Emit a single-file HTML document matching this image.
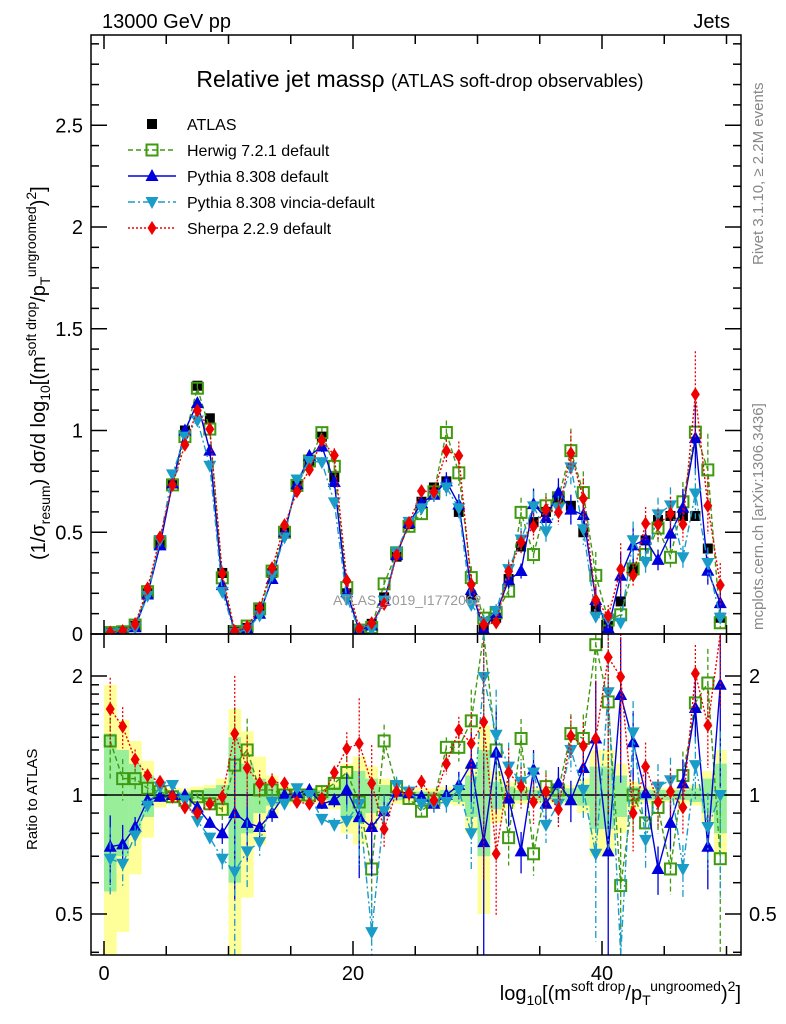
<!DOCTYPE html>
<html><head><meta charset="utf-8">
<style>
html,body{margin:0;padding:0;background:#fff;width:786px;height:1024px;overflow:hidden;}
svg{display:block;font-family:"Liberation Sans",sans-serif;}
</style></head>
<body>
<svg id="chart" width="786" height="1024" viewBox="0 0 786 1024">
<defs>
<clipPath id="clipMain"><rect x="91" y="35" width="650" height="599"/></clipPath>
<clipPath id="clipRatio"><rect x="91" y="634" width="650" height="321"/></clipPath>
</defs>
<g id="bands" clip-path="url(#clipRatio)"></g>
<g id="ratioMarks" clip-path="url(#clipRatio)"></g>
<g id="mainMarks" clip-path="url(#clipMain)"></g>
<g id="axes"></g>
<text x="102" y="28" font-size="20">13000 GeV pp</text>
<text x="730" y="28" font-size="20" text-anchor="end">Jets</text>
<text x="420" y="87" font-size="23" text-anchor="middle">Relative jet mass<tspan>ρ</tspan> <tspan font-size="18.5">(ATLAS soft-drop observables)</tspan></text>
<text x="333" y="605" font-size="14" fill="#999">ATLAS_2019_I1772062</text>
<text transform="translate(763,265) rotate(-90)" font-size="15" fill="#888">Rivet 3.1.10, ≥ 2.2M events</text>
<text transform="translate(763,630) rotate(-90)" font-size="15" fill="#888">mcplots.cern.ch [arXiv:1306.3436]</text>
<text transform="translate(45,560) rotate(-90)" font-size="20">(1/σ<tspan font-size="14" dy="5">resum</tspan><tspan dy="-5">) dσ/d log</tspan><tspan font-size="14" dy="5">10</tspan><tspan dy="-5">[(m</tspan><tspan font-size="14" dy="-9">soft drop</tspan><tspan dy="9">/p</tspan><tspan font-size="14" dy="5">T</tspan><tspan font-size="14" dy="-14">ungroomed</tspan><tspan dy="9">)</tspan><tspan font-size="14" dy="-9">2</tspan><tspan dy="9">]</tspan></text>
<text transform="translate(37,850) rotate(-90)" font-size="15">Ratio to ATLAS</text>
<text x="741" y="1000" font-size="20" text-anchor="end">log<tspan font-size="14" dy="5">10</tspan><tspan dy="-5">[(m</tspan><tspan font-size="14" dy="-9">soft drop</tspan><tspan dy="9">/p</tspan><tspan font-size="14" dy="5">T</tspan><tspan font-size="14" dy="-14">ungroomed</tspan><tspan dy="9">)</tspan><tspan font-size="14" dy="-9">2</tspan><tspan dy="9">]</tspan></text>
<g id="legend"></g>
</svg>
<script>
const atlas=[0.005,0.01,0.04,0.2,0.44,0.74,1.0,1.22,1.06,0.3,0.01,0.03,0.12,0.3,0.5,0.73,0.85,0.97,0.77,0.2,0.02,0.05,0.18,0.38,0.54,0.65,0.72,0.75,0.6,0.18,0.03,0.08,0.27,0.43,0.55,0.6,0.65,0.63,0.5,0.12,0.04,0.16,0.32,0.46,0.56,0.58,0.58,0.58,0.42,0.08];
const herwigRatio=[1.37,1.1,1.1,1.04,1.02,0.99,0.97,0.99,0.95,0.92,1.19,1.3,1.03,1.03,1.0,1.0,1.0,1.02,1.07,1.14,0.96,0.65,1.37,1.05,0.98,0.91,0.97,1.32,1.32,1.54,2.6,1.3,0.78,1.39,0.71,1.05,1.03,1.43,1.39,2.4,1.72,0.59,1.0,0.85,0.93,0.65,1.12,1.71,1.92,0.69];
const pythiaRatio=[0.74,0.75,0.83,0.97,0.99,1.0,1.0,0.93,0.85,0.8,0.9,0.85,0.83,0.9,1.0,1.01,1.03,0.95,0.97,1.03,0.88,0.83,0.91,1.02,1.01,0.99,0.95,1.0,1.06,1.2,0.76,1.28,0.98,0.72,1.16,0.95,1.07,0.97,1.17,1.39,0.72,1.79,1.36,1.01,0.65,0.85,1.07,1.66,0.74,1.9];
const vinciaRatio=[0.69,0.67,0.79,0.94,1.05,1.06,0.97,0.86,0.78,0.69,0.64,0.72,0.76,0.96,0.95,1.04,1.0,0.87,0.84,0.86,0.95,0.45,0.91,1.06,1.02,0.95,0.95,0.96,1.03,0.8,1.99,1.42,1.18,1.08,1.14,0.84,0.95,1.3,1.03,0.71,1.82,0.35,1.44,0.77,1.05,1.09,0.65,1.19,0.83,1.0];
const sherpaRatio=[1.65,1.49,1.23,1.12,1.08,0.99,0.93,0.9,0.95,0.99,1.43,1.17,1.07,1.08,1.07,0.96,0.95,0.98,1.14,1.31,1.35,1.07,0.82,1.02,1.01,1.08,0.97,1.2,1.46,1.35,1.53,0.71,1.14,1.05,0.96,1.02,0.92,1.41,1.33,1.39,2.23,1.99,0.9,1.18,0.96,1.02,0.93,2.03,1.5,3.0];
const mcRelErr=[0.2,0.12,0.06,0.04,0.03,0.02,0.02,0.02,0.03,0.06,0.4,0.2,0.08,0.05,0.03,0.02,0.02,0.03,0.04,0.1,0.3,0.25,0.1,0.05,0.04,0.04,0.05,0.06,0.08,0.2,0.6,0.3,0.15,0.12,0.12,0.1,0.1,0.12,0.15,0.4,0.6,0.4,0.2,0.15,0.14,0.14,0.15,0.18,0.22,0.45];
const yellowErr=[0.9,0.55,0.37,0.22,0.07,0.04,0.04,0.05,0.06,0.1,0.65,0.45,0.25,0.12,0.06,0.04,0.04,0.05,0.08,0.2,0.25,0.18,0.1,0.05,0.04,0.04,0.04,0.05,0.06,0.2,0.5,0.15,0.08,0.05,0.05,0.05,0.05,0.06,0.1,0.3,0.3,0.2,0.08,0.05,0.04,0.04,0.05,0.06,0.15,0.3];
const greenErr=[0.43,0.3,0.2,0.12,0.04,0.02,0.02,0.03,0.04,0.06,0.4,0.2,0.1,0.06,0.03,0.02,0.02,0.03,0.05,0.12,0.15,0.1,0.06,0.03,0.02,0.02,0.02,0.03,0.04,0.12,0.3,0.08,0.05,0.03,0.03,0.03,0.03,0.04,0.06,0.18,0.18,0.12,0.05,0.03,0.03,0.03,0.03,0.04,0.1,0.2];
const xTicks=[0,20,40];
const yTicks=[0,0.5,1,1.5,2,2.5];
const rTicks=[0.5,1,2];

const NS="http://www.w3.org/2000/svg";
function xs(v){return 104+12.45*v;}
function ys(v){return Math.min(634,Math.max(35,634-203.5*v));}
function rs(r){return Math.min(955,Math.max(634,795-119*Math.log2(Math.max(r,0.05))));}
function mk(tag,attrs,parent){const e=document.createElementNS(NS,tag);for(const k in attrs)e.setAttribute(k,attrs[k]);parent.appendChild(e);return e;}
const bands=document.getElementById('bands'),rm=document.getElementById('ratioMarks'),mm=document.getElementById('mainMarks'),ax=document.getElementById('axes'),lg=document.getElementById('legend');

for(let i=0;i<atlas.length;i++){
  const yt=rs(1+yellowErr[i]),yb=rs(Math.max(1-yellowErr[i],0.05));
  const y=mk('rect',{x:xs(i),y:yt,width:12.75,height:yb-yt,fill:'#ffff99'},bands);
  
  
  const gt=rs(1+greenErr[i]),gb=rs(Math.max(1-greenErr[i],0.05));
  const g=mk('rect',{x:xs(i),y:gt,width:12.75,height:gb-gt,fill:'#99ee99'},bands);
  
  
}
const unity=mk('line',{x1:91,x2:741,y1:rs(1),y2:rs(1),stroke:'#000','stroke-width':1.5},rm);



function marker(type,cx,cy,color,parent){
  let e;
  if(type==='sq') e=mk('rect',{x:cx-5,y:cy-5,width:10,height:10,fill:'#000'},parent);
  else if(type==='osq') e=mk('rect',{x:cx-5.5,y:cy-5.5,width:11,height:11,fill:'none',stroke:color,'stroke-width':2},parent);
  else if(type==='tri') e=mk('polygon',{points:`${cx},${cy-7} ${cx-6.5},${cy+5} ${cx+6.5},${cy+5}`,fill:color},parent);
  else if(type==='itri') e=mk('polygon',{points:`${cx},${cy+7} ${cx-6.5},${cy-5} ${cx+6.5},${cy-5}`,fill:color},parent);
  else e=mk('polygon',{points:`${cx},${cy-7} ${cx-4.5},${cy} ${cx},${cy+7} ${cx+4.5},${cy}`,fill:color},parent);
  return e;
}
for(let i=0;i<atlas.length;i++){
  const d=marker('sq',xs(i+0.5),ys(atlas[i]),'#000',mm);
  
  
}
const series=[
 {name:'herwig',r:herwigRatio,color:'#3f9a10',dash:'5,3',type:'osq',label:'Herwig 7.2.1 default'},
 {name:'pythia',r:pythiaRatio,color:'#0000dd',dash:'',type:'tri',label:'Pythia 8.308 default'},
 {name:'vincia',r:vinciaRatio,color:'#1a9cc8',dash:'7,3,2,3',type:'itri',label:'Pythia 8.308 vincia-default'},
 {name:'sherpa',r:sherpaRatio,color:'#ee0000',dash:'2,2',type:'dia',label:'Sherpa 2.2.9 default'}
];
series.forEach(s=>{
  const mainPts=[],ratioPts=[];
  for(let i=0;i<atlas.length;i++){
    const cx=xs(i+0.5);const v=atlas[i]*s.r[i];
    mainPts.push(cx+','+ys(v));ratioPts.push(cx+','+rs(s.r[i]));
  }
  const lm=mk('polyline',{points:mainPts.join(' '),fill:'none',stroke:s.color,'stroke-width':1.4,'stroke-dasharray':s.dash},mm);
  
  
  const lr=mk('polyline',{points:ratioPts.join(' '),fill:'none',stroke:s.color,'stroke-width':1.4,'stroke-dasharray':s.dash},rm);
  
  
  for(let i=0;i<atlas.length;i++){
    const cx=xs(i+0.5);const v=atlas[i]*s.r[i];const e=mcRelErr[i];
    const eb=mk('line',{x1:cx,x2:cx,y1:ys(v*(1+e)),y2:ys(v*(1-e)),stroke:s.color,'stroke-width':1.3,'stroke-dasharray':s.dash},mm);
    
    
    const r=s.r[i];
    const eb2=mk('line',{x1:cx,x2:cx,y1:rs(r*(1+e)),y2:rs(Math.max(r*(1-e),0.05)),stroke:s.color,'stroke-width':1.3,'stroke-dasharray':s.dash},rm);
    
    
    if(ys(v)>35&&ys(v)<634||v<=0.0001){
      const m1=marker(s.type,cx,ys(v),s.color,mm);
      
      
    }
    const ry=795-119*Math.log2(r);
    if(ry>634&&ry<955){
      const m2=marker(s.type,cx,ry,s.color,rm);
      
      
    }
  }
});

const f1=mk('rect',{x:91,y:35,width:650,height:599,fill:'none',stroke:'#000','stroke-width':1.5},ax);


const f2=mk('rect',{x:91,y:634,width:650,height:321,fill:'none',stroke:'#000','stroke-width':1.5},ax);


for(let v=0;v<=50;v+=5){
  const big=(v%20===0);const L=big?14:9;
  [[634,-1],[955,-1],[35,1],[634,1]].forEach(([yb,dir])=>{
    const t=mk('line',{x1:xs(v),x2:xs(v),y1:yb,y2:yb+dir*L,stroke:'#000','stroke-width':1.5},ax);
    
    
  });
}
xTicks.forEach(v=>{
  const t=mk('text',{x:xs(v),y:980,'font-size':20,'text-anchor':'middle'},ax);t.textContent=v;
  
  
});
for(let k=0;k<=29;k++){
  const v=k/10;const big=(k%5===0);const L=big?16:8;
  [[91,1],[741,-1]].forEach(([xb,dir])=>{
    const t=mk('line',{x1:xb,x2:xb+dir*L,y1:634-203.5*v,y2:634-203.5*v,stroke:'#000','stroke-width':1.5},ax);
    
    
  });
}
yTicks.forEach(v=>{
  const t=mk('text',{x:83,y:634-203.5*v+7,'font-size':20,'text-anchor':'end'},ax);t.textContent=String(v);
  
  
});
const rMinor=[0.4,0.6,0.7,0.8,0.9,1.1,1.2,1.3,1.4,1.5,1.6,1.7,1.8,1.9];
rTicks.concat(rMinor).forEach(v=>{
  const big=rTicks.includes(v);const L=big?16:8;
  [[91,1],[741,-1]].forEach(([xb,dir])=>{
    const t=mk('line',{x1:xb,x2:xb+dir*L,y1:rs(v),y2:rs(v),stroke:'#000','stroke-width':1.5},ax);
    
    
  });
});
rTicks.forEach(v=>{
  const t=mk('text',{x:83,y:rs(v)+7,'font-size':20,'text-anchor':'end'},ax);t.textContent=String(v);
  
  
  const t2=mk('text',{x:749,y:rs(v)+7,'font-size':20},ax);t2.textContent=String(v);
  
  
});
const legRows=[{type:'sq',color:'#000',dash:'',label:'ATLAS'}].concat(series);
legRows.forEach((s,i)=>{
  const y=124+26*i;
  if(i>0){
    const l=mk('line',{x1:128,x2:176,y1:y,y2:y,stroke:s.color,'stroke-width':1.4,'stroke-dasharray':s.dash},lg);
    
    
  }
  const m=marker(s.type,152,y,s.color,lg);
  
  
  const t=mk('text',{x:187,y:y+6,'font-size':16},lg);t.textContent=s.label;
  
  
});
</script>
</body></html>
